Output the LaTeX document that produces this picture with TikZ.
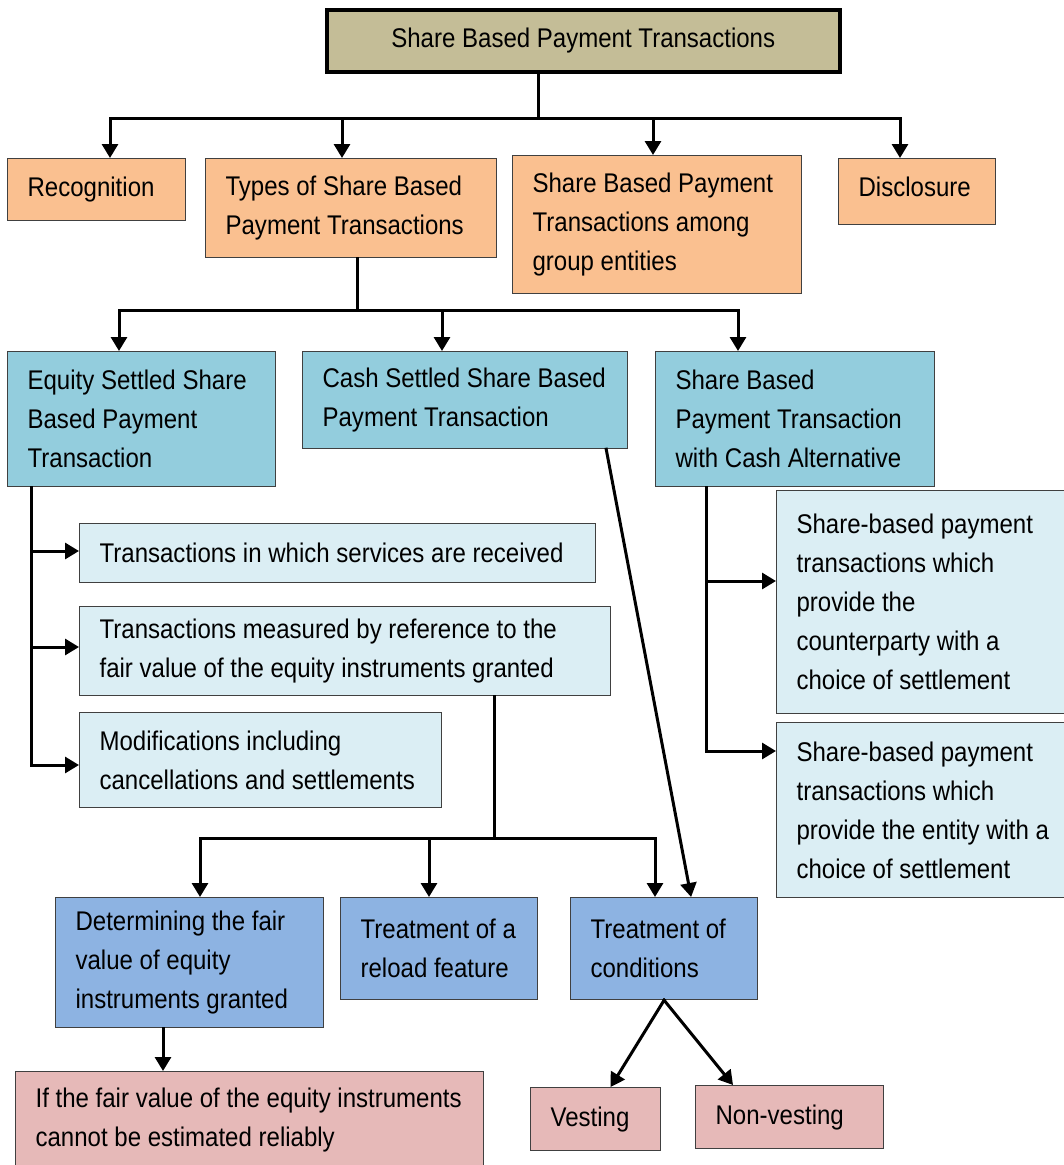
\documentclass[tikz,border=0pt]{standalone}
\usepackage{fontspec}
\setmainfont{Liberation Sans}[FakeStretch=0.89]
\usepackage{tikz}
\usetikzlibrary{arrows.meta,positioning,calc}

\definecolor{tanfill}{HTML}{C4BD97}
\definecolor{peachfill}{HTML}{FAC090}
\definecolor{tealfill}{HTML}{93CDDD}
\definecolor{palefill}{HTML}{DBEEF4}
\definecolor{bluefill}{HTML}{8DB3E2}
\definecolor{rosefill}{HTML}{E6B9B8}

\begin{document}
\begin{tikzpicture}[x=1pt,y=-1pt,font=\fontsize{27}{39}\selectfont,
  box/.style={draw=black!75,line width=1.2pt,anchor=north west,align=flush left,
    inner xsep=20pt,inner ysep=0pt,
    execute at begin node={\spaceskip=0pt\xspaceskip=0pt\hyphenpenalty=10000\relax}},
  conn/.style={line width=3pt,line cap=rect},
  arr/.style={line width=3pt,line cap=rect,-{Triangle[length=14pt,width=16pt]}}]
  \clip (0,0) rectangle (1064,1165);

  % top level
  \node[box,fill=tanfill,draw=black,line width=3.5pt,align=flush center,
    text width=473pt,minimum height=62pt] (root) at (325,8)
    {Share Based Payment Transactions};
  \node[box,fill=peachfill,text width=138pt,minimum height=62pt] (rec) at (7,158)
    {Recognition};
  \node[box,fill=peachfill,text width=251pt,minimum height=99pt] (types) at (205,158)
    {Types of Share Based\\Payment Transactions};
  \node[box,fill=peachfill,text width=249pt,minimum height=138pt] (group) at (512,155)
    {Share Based Payment\\Transactions among\\group entities};
  \node[box,fill=peachfill,text width=117pt,minimum height=66pt,
    text depth=10pt] (discl) at (838,158)
    {Disclosure};

  % kinds of transaction
  \node[box,fill=tealfill,text width=228pt,minimum height=135pt] (equity) at (7,351)
    {Equity Settled Share\\Based Payment\\Transaction};
  \node[box,fill=tealfill,text width=285pt,minimum height=97pt] (cash) at (302,351)
    {Cash Settled Share Based\\Payment Transaction};
  \node[box,fill=tealfill,text width=239pt,minimum height=135pt] (alt) at (655,351)
    {Share Based\\Payment Transaction\\with Cash Alternative};

  \node[box,fill=palefill,text width=476pt,minimum height=59pt] (recv) at (79,523)
    {Transactions in which services are received};
  \node[box,fill=palefill,text width=491pt,minimum height=89pt] (meas) at (79,606)
    {Transactions measured by reference to the\\fair value of the equity instruments granted};
  \node[box,fill=palefill,text width=322pt,minimum height=95pt] (modif) at (79,712)
    {Modifications including\\cancellations and settlements};
  \node[box,fill=palefill,text width=270pt,minimum height=223pt] (choice1) at (776,490)
    {Share-based payment\\transactions which\\provide the\\counterparty with a\\choice of settlement};
  \node[box,fill=palefill,text width=270pt,minimum height=175pt] (choice2) at (776,722)
    {Share-based payment\\transactions which\\provide the entity with a\\choice of settlement};

  % fair value branch
  \node[box,fill=bluefill,text width=228pt,minimum height=130pt] (det) at (55,897)
    {Determining the fair\\value of equity\\instruments granted};
  \node[box,fill=bluefill,text width=157pt,minimum height=102pt] (reload) at (340,897)
    {Treatment of a\\reload feature};
  \node[box,fill=bluefill,text width=147pt,minimum height=102pt] (cond) at (570,897)
    {Treatment of\\conditions};
  \node[box,fill=rosefill,text width=428pt,minimum height=97pt] (ifbox) at (15,1071)
    {If the fair value of the equity instruments\\cannot be estimated reliably};
  \node[box,fill=rosefill,text width=90pt,minimum height=63pt] (vest) at (530,1087)
    {Vesting};
  \node[box,fill=rosefill,text width=148pt,minimum height=63pt] (nonv) at (695,1085)
    {Non-vesting};

  % root to first row
  \coordinate (jRoot) at (538,118);
  \coordinate (jRec) at (110,118);
  \coordinate (jTyp) at (342,118);
  \coordinate (jGrp) at (653,118);
  \coordinate (jDis) at (900,118);
  \draw[conn] (root.south -| jRoot) -- (jRoot);
  \draw[conn] (jRec) -- (jDis);
  \foreach \j/\n in {jRec/rec,jTyp/types,jGrp/group,jDis/discl}
    \draw[arr] (\j) -- (\j |- \n.north);

  % types to kinds
  \coordinate (jTypes) at (357,310);
  \coordinate (jEq) at (119,310);
  \coordinate (jCash) at (442,310);
  \coordinate (jAlt) at (738,310);
  \draw[conn] (types.south -| jTypes) -- (jTypes);
  \draw[conn] (jEq) -- (jAlt);
  \foreach \j/\n in {jEq/equity,jCash/cash,jAlt/alt}
    \draw[arr] (\j) -- (\j |- \n.north);

  % equity settled
  \coordinate (eRecv) at (31,551);
  \coordinate (eMeas) at (31,647);
  \coordinate (eMod) at (31,765);
  \draw[conn] (equity.south -| eMod) -- (eMod);
  \foreach \j/\n in {eRecv/recv,eMeas/meas,eMod/modif}
    \draw[arr] (\j) -- (\j -| \n.west);

  % cash alternative
  \coordinate (aOne) at (706,581);
  \coordinate (aTwo) at (706,751);
  \draw[conn] (alt.south -| aTwo) -- (aTwo);
  \foreach \j/\n in {aOne/choice1,aTwo/choice2}
    \draw[arr] (\j) -- (\j -| \n.west);

  % measured at fair value
  \coordinate (jMeas) at (494,838);
  \coordinate (jDet) at (200,838);
  \coordinate (jReload) at (429,838);
  \coordinate (jCond) at (655,838);
  \draw[conn] (meas.south -| jMeas) -- (jMeas);
  \draw[conn] (jDet) -- (jCond);
  \foreach \j/\n in {jDet/det,jReload/reload,jCond/cond}
    \draw[arr] (\j) -- (\j |- \n.north);

  \draw[arr] ($(cash.south east)+(-22,0)$) -- ($(cond.north)+(27,0)$);
  \coordinate (dOut) at ($(det.south west)+(108,0)$);
  \draw[arr] (dOut) -- (dOut |- ifbox.north);
  \draw[arr] (cond.south) -- ($(vest.north)+(15,0)$);
  \draw[arr] (cond.south) -- ($(nonv.north west)+(38,0)$);
\end{tikzpicture}
\end{document}
